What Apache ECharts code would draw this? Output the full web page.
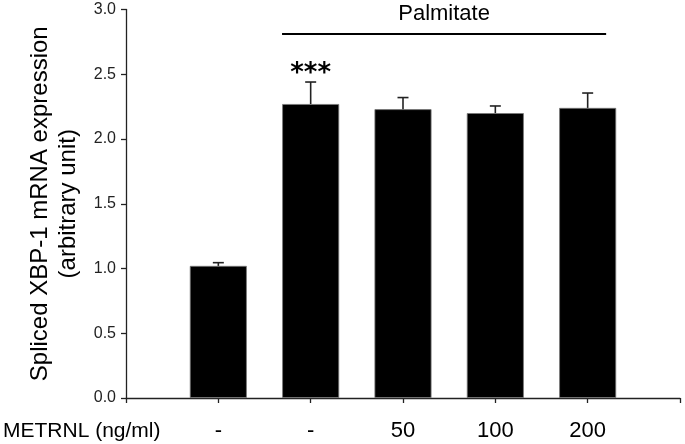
<!DOCTYPE html>
<html>
<head>
<meta charset="utf-8">
<script src="https://cdn.jsdelivr.net/npm/echarts@6/dist/echarts.min.js"></script>
<style>
html,body{margin:0;padding:0;background:#fff;}
#c{width:685px;height:444px;}
</style>
</head>
<body>
<div id="c"></div>
<script>
// ---- data ----
var doses = ['-', '-', '50', '100', '200'];
var means = [1.02, 2.27, 2.23, 2.20, 2.24];
var errors = [0.025, 0.17, 0.09, 0.055, 0.115];
var significance = ['', '***', '', '', ''];
var yTicks = [0, 0.5, 1.0, 1.5, 2.0, 2.5, 3.0];
var groupLabel = 'Palmitate';
var groupSpan = [1.69, 5.2];  // x-extent of the Palmitate bracket (slot units)
var groupLevel = 2.81;        // y-level of the bracket
var yName = 'Spliced XBP-1 mRNA expression\n(arbitrary unit)';
var xName = 'METRNL (ng/ml)';

// bars sit at slots 1..N on an axis running 0..N+1
var barData = means.map(function (m, i) { return [i + 1, m]; });
var errData = means.map(function (m, i) { return [i + 1, m, errors[i], significance[i]]; });

var font = 'Liberation Sans, Arial, sans-serif';
var chart = echarts.init(document.getElementById('c'));
chart.setOption({
  animation: false,
  backgroundColor: '#fff',
  grid: { left: 126, right: 5, top: 9.5, bottom: 46, containLabel: false },
  xAxis: {
    type: 'value',
    min: 0, max: doses.length + 1, interval: 1,
    axisLine: { lineStyle: { color: '#222', width: 1.3 } },
    axisTick: { length: 5, lineStyle: { color: '#222', width: 1.3 } },
    axisLabel: { color: '#000', fontSize: 22, fontFamily: font, margin: 22,
      formatter: function (v) { var k = Math.round(v) - 1; return doses[k] !== undefined ? doses[k] : ''; } },
    splitLine: { show: false }
  },
  yAxis: {
    type: 'value',
    min: 0, max: 3, interval: 0.5,
    name: yName,
    nameLocation: 'middle',
    nameGap: 32,
    nameTextStyle: { color: '#000', fontSize: 24, fontFamily: font, lineHeight: 28 },
    axisLine: { show: true, lineStyle: { color: '#222', width: 1.3 } },
    axisTick: { show: true, length: 5, lineStyle: { color: '#222', width: 1.3 } },
    axisLabel: { color: '#222', fontSize: 16, fontFamily: font, margin: 10,
      formatter: function (v) { return v.toFixed(1); } },
    splitLine: { show: false }
  },
  graphic: [{
    type: 'text', left: 3, top: 421,
    style: { text: xName, fill: '#000', font: '21px ' + font }
  }],
  series: [{
    type: 'bar',
    data: barData,
    barWidth: 57,
    itemStyle: { color: '#000', borderColor: '#777', borderWidth: 0.8 },
    markLine: {
      symbol: 'none',
      silent: true,
      lineStyle: { color: '#000', width: 2, type: 'solid' },
      label: { show: true, position: 'middle', formatter: groupLabel, color: '#000',
        fontSize: 22, fontFamily: font, distance: 9 },
      data: [[{ coord: [groupSpan[0], groupLevel] }, { coord: [groupSpan[1], groupLevel] }]]
    }
  }, {
    type: 'custom',
    data: errData,
    z: 5,
    renderItem: function (params, api) {
      var x = api.value(0), m = api.value(1), e = api.value(2);
      var sig = errData[params.dataIndex][3];
      var p0 = api.coord([x, m]);
      var p1 = api.coord([x, m + e]);
      var hw = 5.5;
      var children = [
        { type: 'line', shape: { x1: p0[0], y1: p0[1], x2: p1[0], y2: p1[1] },
          style: { stroke: '#222', lineWidth: 1.6 } },
        { type: 'line', shape: { x1: p1[0] - hw, y1: p1[1], x2: p1[0] + hw, y2: p1[1] },
          style: { stroke: '#222', lineWidth: 1.6 } }
      ];
      if (sig) {
        children.push({ type: 'text', x: p1[0], y: p1[1] - 8,
          style: { text: sig, fill: '#000', font: 'bold 26px DejaVu Sans, sans-serif',
            align: 'center', verticalAlign: 'middle' } });
      }
      return { type: 'group', children: children };
    }
  }]
});
</script>
</body>
</html>
